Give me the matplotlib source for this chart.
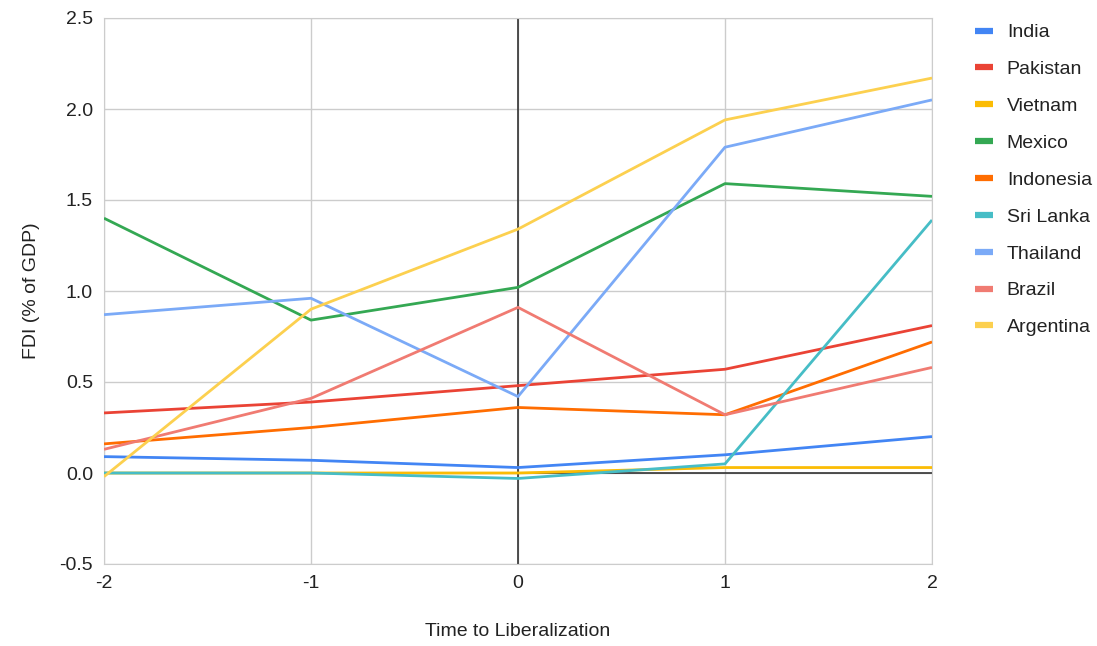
import matplotlib
matplotlib.use("Agg")
import matplotlib.pyplot as plt
from matplotlib.lines import Line2D

plt.rcParams['font.family'] = ['Liberation Sans', 'DejaVu Sans']

x = [-2, -1, 0, 1, 2]
countries = ["India", "Pakistan", "Vietnam", "Mexico", "Indonesia",
             "Sri Lanka", "Thailand", "Brazil", "Argentina"]
india = [0.09, 0.07, 0.03, 0.10, 0.20]
pakistan = [0.33, 0.39, 0.48, 0.57, 0.81]
vietnam = [0.0, 0.0, 0.0, 0.03, 0.03]
mexico = [1.40, 0.84, 1.02, 1.59, 1.52]
indonesia = [0.16, 0.25, 0.36, 0.32, 0.72]
sri_lanka = [0.0, 0.0, -0.03, 0.05, 1.39]
thailand = [0.87, 0.96, 0.42, 1.79, 2.05]
brazil = [0.13, 0.41, 0.91, 0.32, 0.58]
argentina = [-0.02, 0.90, 1.34, 1.94, 2.17]
series = [india, pakistan, vietnam, mexico, indonesia, sri_lanka, thailand, brazil, argentina]
colors = ["#4285F4", "#EA4335", "#FBBC04", "#34A853", "#FF6D01",
          "#46BDC6", "#7BAAF7", "#F07B72", "#FCD04F"]
yticks = [-0.5, 0.0, 0.5, 1.0, 1.5, 2.0, 2.5]

FS = 14
fig = plt.figure(figsize=(10.97, 6.46), dpi=100)
ax = fig.add_axes([104/1097, 1 - 564/646, (932-104)/1097, (564-18)/646])

for s, c in zip(series, colors):
    ax.plot(x, s, color=c, lw=2.0, solid_capstyle='butt', zorder=3)

ax.set_xlim(-2, 2)
ax.set_ylim(-0.5, 2.5)
ax.set_xticks(x)
ax.set_xticklabels([str(v) for v in x])
ax.set_yticks(yticks)
ax.set_yticklabels([f"{v:.1f}" for v in yticks])
ax.grid(True, color="#cccccc", lw=1.0, zorder=0)
ax.axhline(0, color="#333333", lw=1.2, zorder=2)
ax.axvline(0, color="#333333", lw=1.2, zorder=2)
for sp in ax.spines.values():
    sp.set_color("#cccccc")
ax.tick_params(length=0, labelsize=FS, colors="#222222", pad=8)
ax.set_xlabel("Time to Liberalization", fontsize=FS, labelpad=22, color="#222222")
ax.set_ylabel("FDI (% of GDP)", fontsize=FS, labelpad=14, color="#222222")

handles = [Line2D([], [], color=c, lw=4.5, solid_capstyle='butt') for c in colors]
leg = fig.legend(handles, countries, loc="upper left", bbox_to_anchor=(967/1097, 1 - 16/646),
                 frameon=False, fontsize=FS, handlelength=0.93, labelspacing=0.99,
                 handletextpad=0.72, borderaxespad=0)
for t in leg.get_texts():
    t.set_color("#222222")

fig.savefig("out.png", dpi=100)
